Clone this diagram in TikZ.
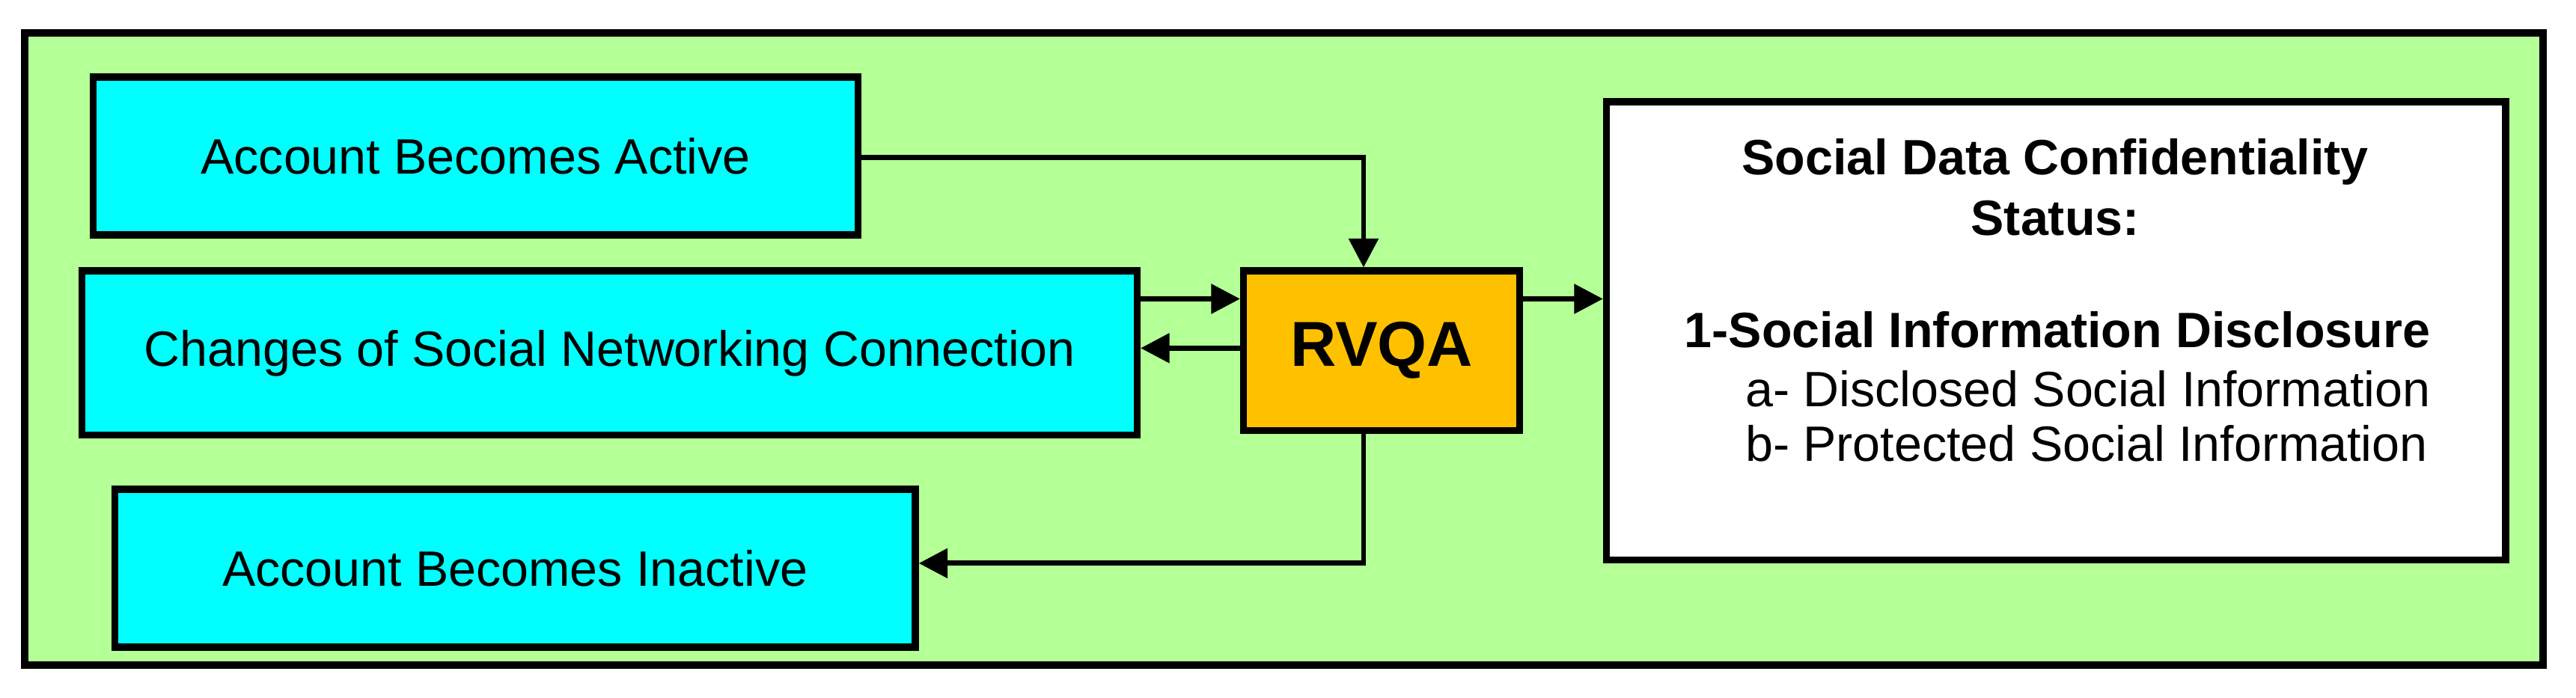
\documentclass[tikz,border=0pt]{standalone}
\usepackage{fontspec}
\setmainfont{Liberation Sans}
\usetikzlibrary{arrows.meta}
\definecolor{bg}{RGB}{180,255,150}
\definecolor{cy}{RGB}{0,255,255}
\definecolor{or}{RGB}{255,192,0}
\begin{document}
\begin{tikzpicture}[x=0.01cm,y=-0.01cm,
 box/.style={draw=black,line width=1.2pt,inner sep=0pt,font=\fontsize{8.6}{10}\selectfont},
 arr/.style={line width=0.9pt,-{Triangle[length=5pt,width=5pt]}}]
\useasboundingbox (0,0) rectangle (1568,425);
\draw[fill=bg,line width=1.2pt] (15,20) rectangle (1548,405);
\node[box,fill=cy,minimum width=4.65cm,minimum height=0.96cm] (a) at (289.5,95) {Account Becomes Active};
\node[box,fill=cy,minimum width=6.42cm,minimum height=1.0cm] (c) at (371,215) {Changes of Social Networking Connection};
\node[box,fill=cy,minimum width=4.87cm,minimum height=0.96cm] (i) at (313.5,346) {Account Becomes Inactive};
\node[box,fill=or,minimum width=1.68cm,minimum height=0.97cm,font=\fontsize{11}{13}\selectfont\bfseries] (r) at (841,213.5) {RVQA};
\node[box,fill=white,minimum width=5.47cm,minimum height=2.79cm] (s) at (1251.5,201.5) {};
\node[font=\fontsize{8.6}{10.5}\selectfont\bfseries,align=center] (t) at (1251,114) {Social Data Confidentiality\\Status:};
\node[font=\fontsize{8.6}{10.5}\selectfont\bfseries,anchor=west] (h) at (1013,201) {1-Social Information Disclosure};
\node[font=\fontsize{8.6}{10.5}\selectfont,anchor=west] (h1) at (1050,237) {a- Disclosed Social Information};
\node[font=\fontsize{8.6}{10.5}\selectfont,anchor=west] (h2) at (1050,270) {b- Protected Social Information};
\coordinate (p1) at (830,96);
\coordinate (p2) at (830,343);
\draw[arr] (a.east|-p1) -- (p1) -- (r.north-|p1);
\draw[arr] (c.east|-0,182) -- (r.west|-0,182);
\draw[arr] (r.west|-0,212) -- (c.east|-0,212);
\draw[arr] (r.south-|p2) -- (p2) -- (i.east|-p2);
\draw[arr] (r.east|-0,182) -- (s.west|-0,182);
\end{tikzpicture}
\end{document}
